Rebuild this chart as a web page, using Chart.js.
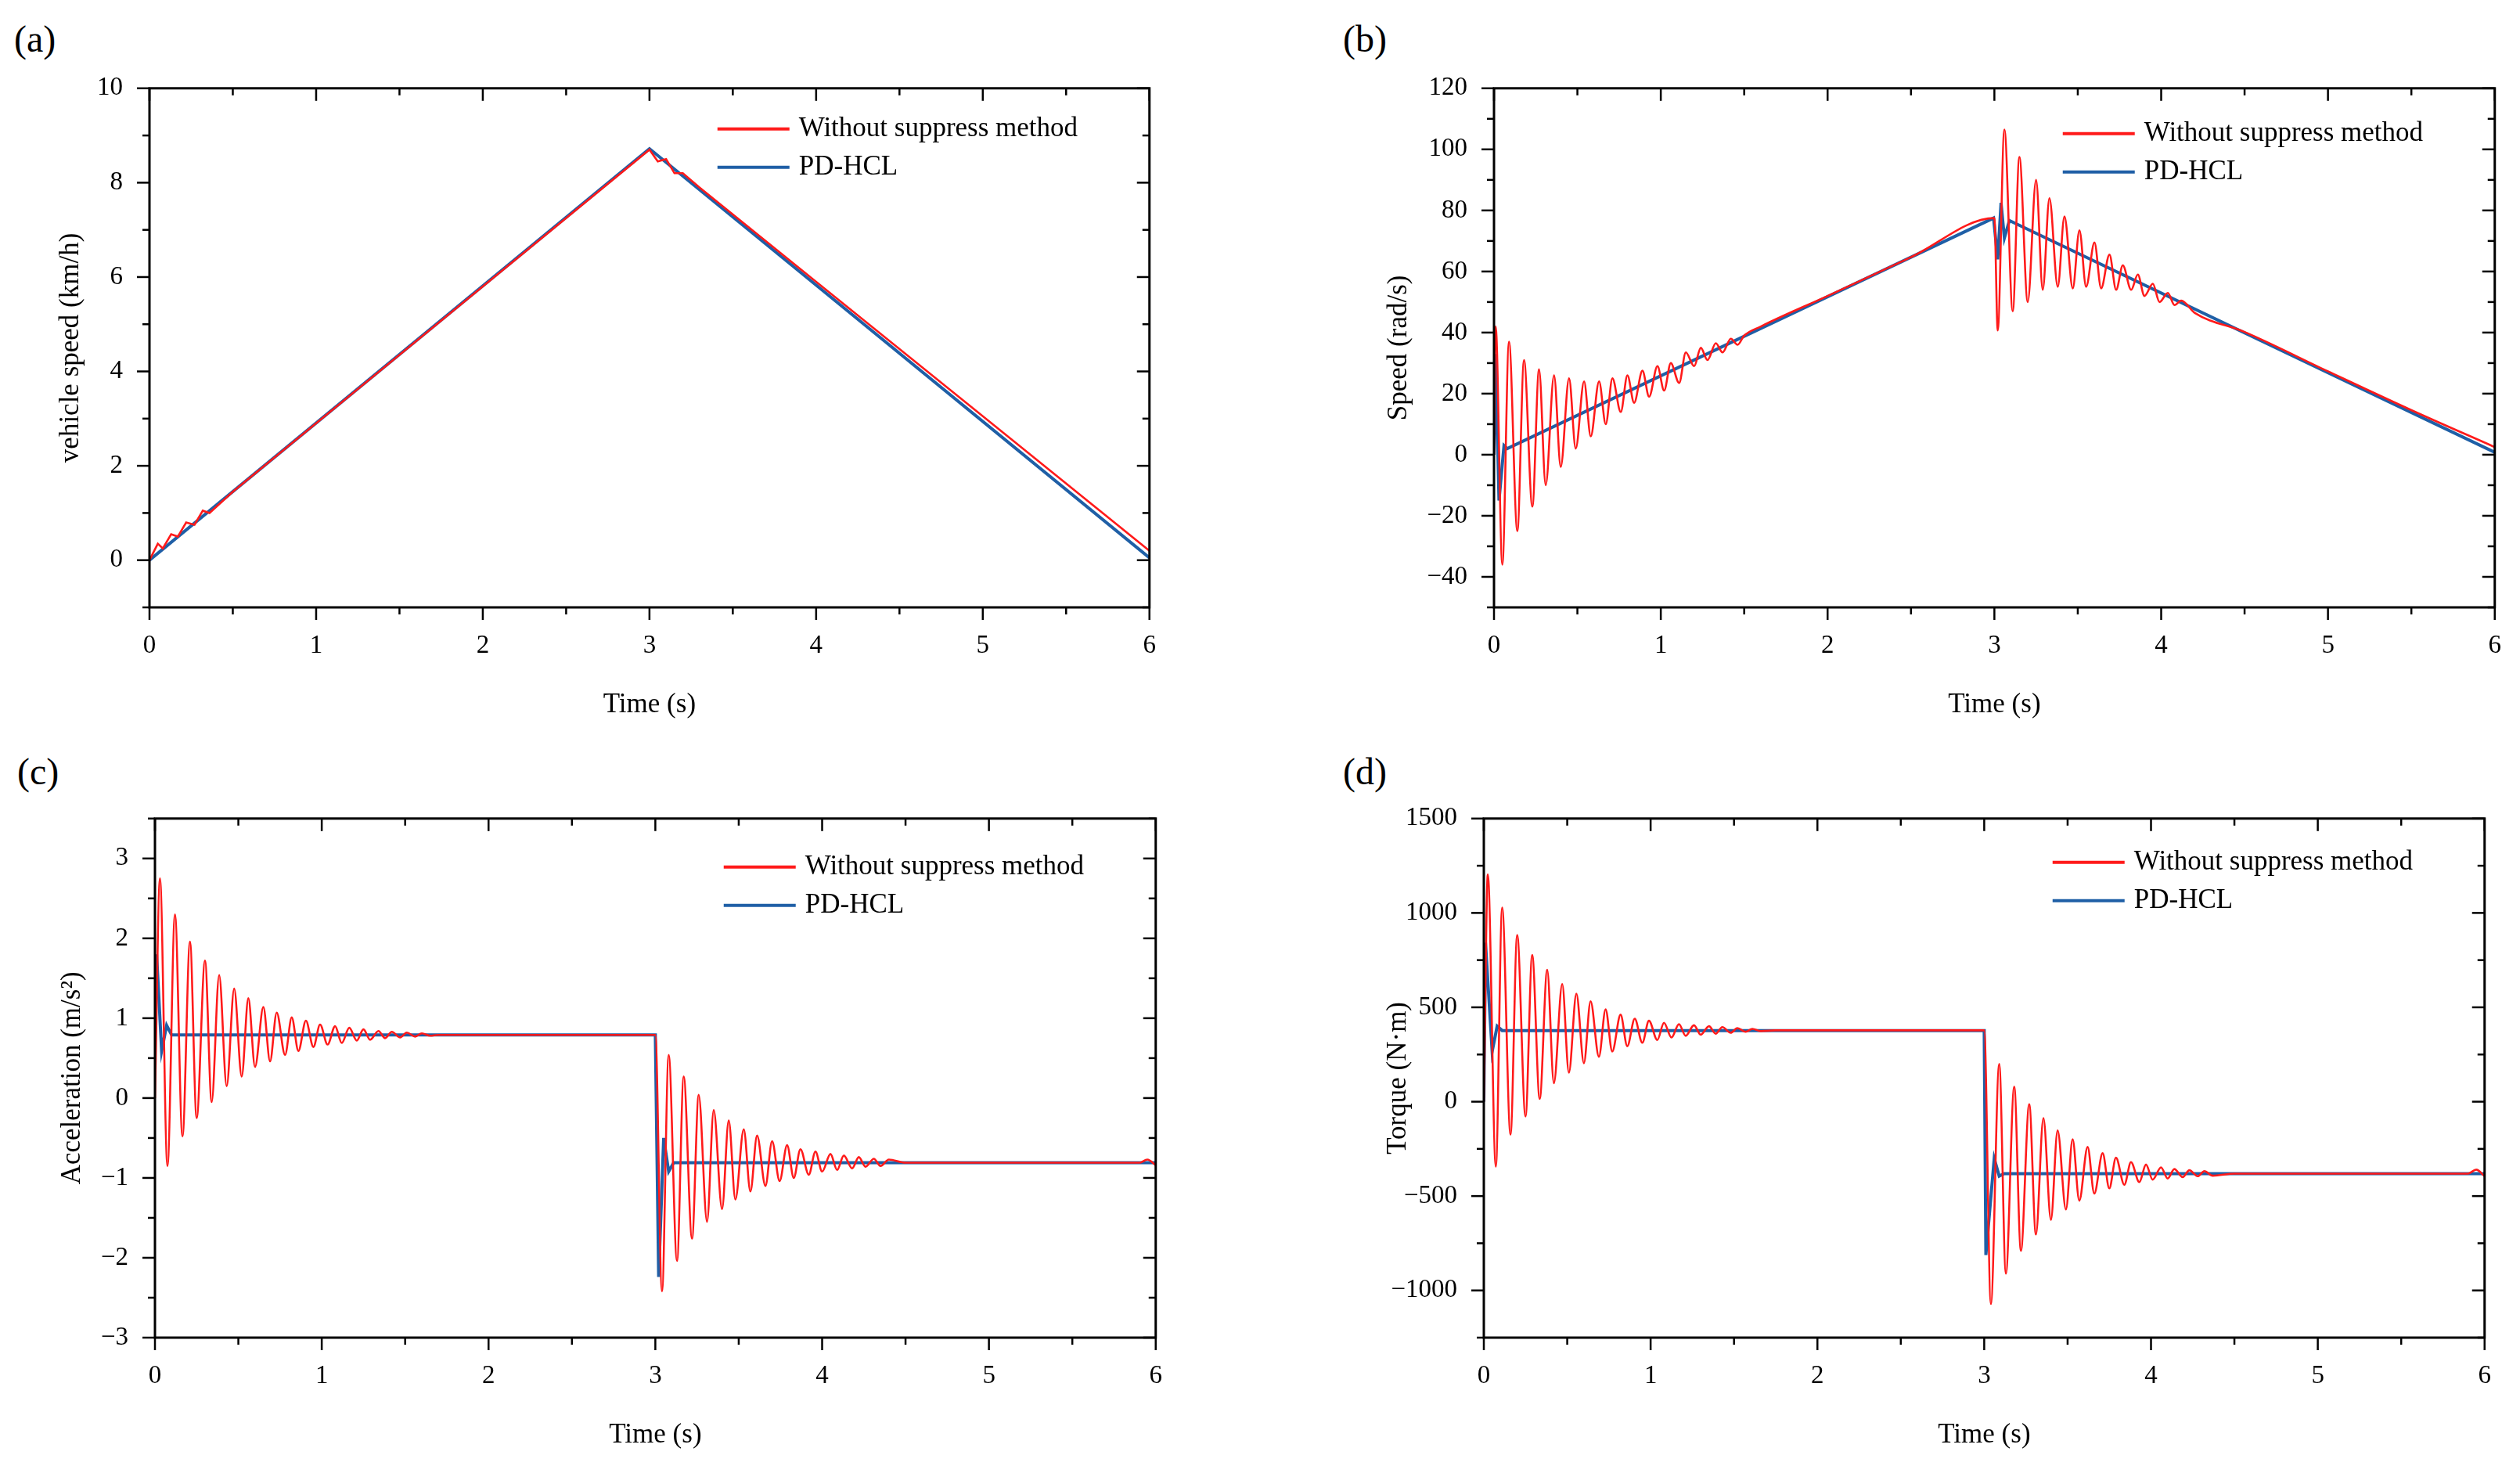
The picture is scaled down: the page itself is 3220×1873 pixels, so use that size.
<!DOCTYPE html>
<html>
<head>
<meta charset="utf-8">
<script src="https://cdn.jsdelivr.net/npm/chart.js@4.4.0/dist/chart.umd.min.js"></script>
<style>
  html, body { margin: 0; padding: 0; background: #fff; overflow: hidden; }
  body { width: 3220px; height: 1873px; position: relative; font-family: "Liberation Serif", serif; }
  .panel { position: absolute; }
  .tag { position: absolute; font-size: 48px; color: #000; }
</style>
</head>
<body>
<div class="tag" style="left:18px;top:22px">(a)</div>
<div class="tag" style="left:1716px;top:22px">(b)</div>
<div class="tag" style="left:22px;top:958px">(c)</div>
<div class="tag" style="left:1716px;top:958px">(d)</div>
<div class="panel" id="pa"><canvas id="ca"></canvas></div>
<div class="panel" id="pb"><canvas id="cb"></canvas></div>
<div class="panel" id="pc"><canvas id="cc"></canvas></div>
<div class="panel" id="pd"><canvas id="cd"></canvas></div>
<script>
// ---- series (time s, value) ----
const labelRed = "Without suppress method";
const labelBlue = "PD-HCL";

// (a) vehicle speed km/h
const aRedT = [0, 0.05, 0.08, 0.13, 0.17, 0.22, 0.27, 0.32, 0.36, 0.5, 1.0, 2.0, 3.0, 3.05, 3.1, 3.15, 3.2, 3.3, 4.0, 5.0, 6.0];
const aRedV = [0, 0.35, 0.25, 0.55, 0.5, 0.8, 0.75, 1.05, 1.0, 1.45, 2.9, 5.8, 8.7, 8.45, 8.5, 8.2, 8.2, 7.9, 5.9, 3.05, 0.2];
const aBlueT = [0, 3.0, 6.0];
const aBlueV = [0, 8.72, 0.05];

// (b) speed rad/s
const bRedT = [0, 0.01, 0.05, 0.09, 0.14, 0.18, 0.23, 0.27, 0.31, 0.36, 0.40, 0.45, 0.49, 0.54, 0.58, 0.63, 0.67, 0.71, 0.76, 0.80, 0.84, 0.89, 0.93, 0.98, 1.02, 1.06, 1.11, 1.15, 1.2, 1.24, 1.28, 1.33, 1.37, 1.42, 1.46, 1.5, 1.6, 2.0, 2.5,
  3.0, 3.02, 3.06, 3.11, 3.15, 3.2, 3.25, 3.29, 3.33, 3.38, 3.42, 3.47, 3.51, 3.55, 3.6, 3.64, 3.69, 3.73, 3.77, 3.82, 3.86, 3.9, 3.95, 3.99, 4.04, 4.08, 4.12, 4.2, 4.5, 5.0, 5.5, 6.0];
const bRedV = [0, 42, -36, 37, -25, 31, -17, 28, -10, 26, -4, 25, 2, 24, 6, 24, 10, 25, 14, 26, 17, 27.5, 19, 29, 21, 30, 23.5, 33.5, 29, 35, 31, 36.5, 33.5, 38, 36, 39, 42, 52, 64.7,
  77.5, 40.7, 106.5, 47, 97.5, 50, 90, 54, 84, 55, 78, 54.5, 73.5, 55, 69.5, 54.5, 65.5, 54, 62, 54, 59, 52, 56, 50, 53, 49, 50.5, 46.5, 40.2, 27.3, 14.6, 2.5];
const bBlueT = [0, 0.01, 0.03, 0.06, 0.08, 2.995, 3.02, 3.04, 3.06, 3.09, 6.0];
const bBlueV = [0, 33, -15, 3, 2, 77.5, 64, 82.5, 71, 76.7, 0.8];

// (c) acceleration m/s^2
const cRedT = [0, 0.03, 0.075, 0.12, 0.165, 0.21, 0.25, 0.30, 0.34, 0.385, 0.43, 0.475, 0.52, 0.56, 0.60, 0.65, 0.69, 0.73, 0.78, 0.82, 0.86, 0.905, 0.95, 0.99, 1.035, 1.08, 1.12, 1.165, 1.21, 1.25, 1.29, 1.34, 1.38, 1.42, 1.47, 1.51, 1.56, 1.6, 1.65, 1.7,
  3.0, 3.04, 3.08, 3.13, 3.17, 3.22, 3.26, 3.31, 3.35, 3.40, 3.44, 3.48, 3.53, 3.57, 3.61, 3.66, 3.70, 3.745, 3.79, 3.83, 3.87, 3.92, 3.96, 4.0, 4.05, 4.09, 4.13, 4.18, 4.22, 4.26, 4.31, 4.35, 4.4, 4.5, 5.9, 5.95, 6.0];
const cRedV = [0, 2.75, -0.85, 2.3, -0.48, 1.96, -0.25, 1.72, -0.05, 1.54, 0.15, 1.37, 0.27, 1.25, 0.39, 1.14, 0.46, 1.07, 0.54, 1.01, 0.59, 0.97, 0.64, 0.92, 0.67, 0.9, 0.69, 0.88, 0.72, 0.86, 0.73, 0.84, 0.75, 0.83, 0.76, 0.82, 0.77, 0.81, 0.78, 0.79,
  0.79, -2.42, 0.54, -2.04, 0.27, -1.76, 0.04, -1.55, -0.15, -1.39, -0.28, -1.27, -0.39, -1.17, -0.47, -1.10, -0.54, -1.04, -0.59, -1.0, -0.64, -0.96, -0.67, -0.92, -0.70, -0.90, -0.72, -0.88, -0.74, -0.86, -0.76, -0.85, -0.77, -0.81, -0.81, -0.77, -0.84];
const cBlueT = [0, 0.01, 0.04, 0.07, 0.1, 3.0, 3.02, 3.05, 3.08, 3.11, 6.0];
const cBlueV = [0.79, 1.8, 0.59, 0.91, 0.79, 0.79, -2.24, -0.5, -0.92, -0.81, -0.81];

// (d) torque N·m
const dRedT = [0, 0.024, 0.072, 0.11, 0.16, 0.2, 0.25, 0.29, 0.335, 0.38, 0.42, 0.47, 0.51, 0.555, 0.6, 0.64, 0.69, 0.73, 0.77, 0.82, 0.86, 0.905, 0.95, 0.99, 1.04, 1.08, 1.125, 1.17, 1.21, 1.26, 1.3, 1.35, 1.39, 1.43, 1.48, 1.52, 1.57, 1.61, 1.66, 1.75,
  3.0, 3.04, 3.09, 3.13, 3.18, 3.22, 3.27, 3.31, 3.355, 3.4, 3.44, 3.49, 3.53, 3.57, 3.62, 3.66, 3.71, 3.75, 3.79, 3.84, 3.88, 3.93, 3.97, 4.01, 4.06, 4.1, 4.14, 4.19, 4.23, 4.28, 4.32, 4.37, 4.5, 5.9, 5.95, 6.0];
const dRedV = [0, 1204, -344, 1028, -175, 883, -78, 777, 15, 699, 98, 623, 154, 572, 204, 532, 238, 489, 266, 461, 294, 440, 312, 429, 327, 418, 340, 411, 349, 405, 355, 400, 360, 395, 365, 390, 370, 386, 374, 378,
  378, -1072, 200, -911, 80, -790, -13, -704, -87, -626, -152, -571, -199, -524, -240, -487, -273, -459, -297, -440, -320, -426, -333, -413, -348, -407, -357, -400, -363, -395, -368, -392, -381, -381, -360, -395];
const dBlueT = [0, 0.01, 0.05, 0.08, 0.11, 3.0, 3.01, 3.06, 3.09, 3.12, 6.0];
const dBlueV = [0, 842, 266, 400, 377, 377, -812, -301, -394, -381, -381];

// ---- layout (pixels of the photographed page) ----
const panels = [
  { id: "a", left: 191, top: 97, w: 1292, h: 679, yw: 125, yMin: -1, yMax: 10, yMajor: 2, yMinor: 1, yTitle: "vehicle speed (km/h)", redT: aRedT, redV: aRedV, blueT: aBlueT, blueV: aBlueV, legTop: 52, smooth: false },
  { id: "b", left: 1909, top: 97, w: 1293, h: 679, yw: 146, yMin: -50, yMax: 120, yMajor: 20, yMinor: 10, yTitle: "Speed (rad/s)", redT: bRedT, redV: bRedV, blueT: bBlueT, blueV: bBlueV, legTop: 58, smooth: true },
  { id: "c", left: 198, top: 1030, w: 1293, h: 679, yw: 130, yMin: -3, yMax: 3.5, yMajor: 1, yMinor: 0.5, yTitle: "Acceleration (m/s²)", redT: cRedT, redV: cRedV, blueT: cBlueT, blueV: cBlueV, legTop: 62, smooth: true },
  { id: "d", left: 1896, top: 1030, w: 1293, h: 679, yw: 134, yMin: -1250, yMax: 1500, yMajor: 500, yMinor: 250, yTitle: "Torque (N·m)", redT: dRedT, redV: dRedV, blueT: dBlueT, blueV: dBlueV, legTop: 56, smooth: true }
];

const PAD_TOP = 30, PAD_RIGHT = 16, X_H = 150;
const RED = "#ff1a1a", BLUE = "#1f5fa6";
const FONT = "Liberation Serif";

function pairs(t, v) { return t.map((x, i) => ({ x: x, y: v[i] })); }

// frame + ticks on all four sides, legend inside top right
const framePlugin = {
  id: "frame",
  afterDatasetsDraw(chart, args, opts) {
    const { ctx, chartArea: ca, scales } = chart;
    const xs = scales.x, ys = scales.y;
    ctx.save();
    ctx.strokeStyle = "#000";
    ctx.lineWidth = 3;
    ctx.strokeRect(ca.left, ca.top, ca.right - ca.left, ca.bottom - ca.top);
    ctx.lineWidth = 2.5;
    const tick = (x1, y1, x2, y2) => { ctx.beginPath(); ctx.moveTo(x1, y1); ctx.lineTo(x2, y2); ctx.stroke(); };
    for (let v = xs.min; v <= xs.max + 1e-9; v += 0.5) {
      const px = xs.getPixelForValue(v);
      const L = Math.abs(v - Math.round(v)) < 1e-6 ? 16 : 9;
      tick(px, ca.bottom, px, ca.bottom + L);
      tick(px, ca.top, px, ca.top + L);
    }
    for (let v = opts.yMin; v <= opts.yMax + 1e-9; v += opts.yMinor) {
      const py = ys.getPixelForValue(v);
      const major = Math.abs(v / opts.yMajor - Math.round(v / opts.yMajor)) < 1e-6;
      const L = major ? 16 : 9;
      tick(ca.left - L, py, ca.left, py);
      tick(ca.right - L, py, ca.right, py);
    }
    // legend
    ctx.font = "35px '" + FONT + "'";
    ctx.textBaseline = "middle";
    chart.data.datasets.forEach((ds, i) => {
      const y = ca.top + opts.legTop + i * 49;
      const x0 = ca.right - 552;
      ctx.strokeStyle = ds.borderColor;
      ctx.lineWidth = 4;
      tick(x0, y, x0 + 92, y);
      ctx.fillStyle = "#000";
      ctx.fillText(ds.label, x0 + 104, y);
    });
    ctx.restore();
  }
};

function fmt(v) {
  const s = String(Math.round(v * 100) / 100);
  return s.replace("-", "\u2212");
}

panels.forEach(p => {
  const box = document.getElementById("p" + p.id);
  const cw = p.yw + p.w + PAD_RIGHT, chh = PAD_TOP + p.h + X_H;
  box.style.left = (p.left - p.yw) + "px";
  box.style.top = (p.top - PAD_TOP) + "px";
  box.style.width = cw + "px";
  box.style.height = chh + "px";

  const redDs = { label: labelRed, data: pairs(p.redT, p.redV), borderColor: RED, borderWidth: 2.6, pointRadius: 0 };
  if (p.smooth) redDs.cubicInterpolationMode = "monotone"; else redDs.tension = 0;

  new Chart(document.getElementById("c" + p.id), {
    type: "line",
    data: {
      datasets: [
        redDs,
        { label: labelBlue, data: pairs(p.blueT, p.blueV), borderColor: BLUE, borderWidth: 4, pointRadius: 0, tension: 0 }
      ]
    },
    options: {
      responsive: true,
      maintainAspectRatio: false,
      animation: false,
      layout: { padding: { top: PAD_TOP, right: PAD_RIGHT, left: 0, bottom: 0 } },
      plugins: {
        legend: { display: false },
        tooltip: { enabled: false },
        frame: { yMin: p.yMin, yMax: p.yMax, yMajor: p.yMajor, yMinor: p.yMinor, legTop: p.legTop }
      },
      scales: {
        x: {
          type: "linear", min: 0, max: 6,
          grid: { display: false }, border: { display: false },
          ticks: { stepSize: 1, color: "#000", padding: 22, font: { family: FONT, size: 33 } },
          title: { display: true, text: "Time (s)", color: "#000", padding: { top: 22 }, font: { family: FONT, size: 35 } },
          afterFit: s => { s.height = X_H; }
        },
        y: {
          min: p.yMin, max: p.yMax,
          grid: { display: false }, border: { display: false },
          afterBuildTicks: s => {
            const t = [];
            const start = Math.ceil(p.yMin / p.yMajor) * p.yMajor;
            for (let v = start; v <= p.yMax + 1e-9; v += p.yMajor) t.push({ value: v });
            s.ticks = t;
          },
          ticks: { color: "#000", padding: 26, font: { family: FONT, size: 33 }, callback: v => fmt(v) },
          title: { display: true, text: p.yTitle, color: "#000", padding: { bottom: 0 }, font: { family: FONT, size: 35 } },
          afterFit: s => { s.height; s.width = p.yw; }
        }
      }
    },
    plugins: [framePlugin]
  });
});
</script>
</body>
</html>
